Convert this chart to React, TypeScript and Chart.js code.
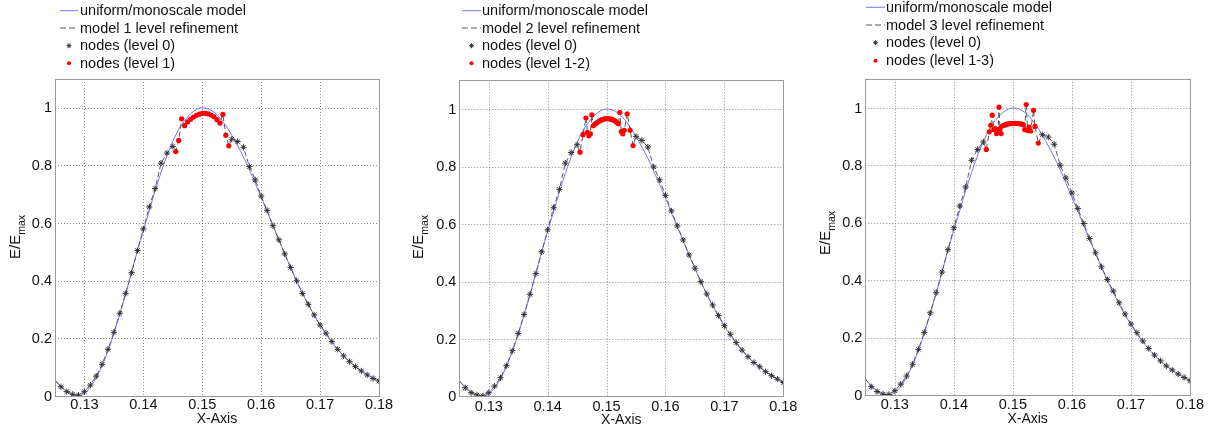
import React, { useEffect, useRef } from 'react';
import { Chart, registerables } from 'chart.js';

Chart.register(...registerables);

// ---- axis ticks -------------------------------------------------------
const xTickValues = [0.13, 0.14, 0.15, 0.16, 0.17, 0.18];
const xTickLabels = ['0.13', '0.14', '0.15', '0.16', '0.17', '0.18'];
const yTickValues = [0, 0.2, 0.4, 0.6, 0.8, 1];
const yTickLabels = ['0', '0.2', '0.4', '0.6', '0.8', '1'];
const X_MIN = 0.125;
const X_MAX = 0.18;
const Y_MIN = 0;
const Y_MAX = 1.1;

// ---- uniform / monoscale model (shared by all panels) -----------------
const uniformX = [
  0.125, 0.126, 0.127, 0.128, 0.129, 0.13, 0.131, 0.132, 0.133, 0.134,
  0.135, 0.136, 0.137, 0.138, 0.139, 0.14, 0.141, 0.142, 0.143, 0.144,
  0.145, 0.146, 0.147, 0.148, 0.149, 0.15, 0.151, 0.152, 0.153, 0.154,
  0.155, 0.156, 0.157, 0.158, 0.159, 0.16, 0.161, 0.162, 0.163, 0.164,
  0.165, 0.166, 0.167, 0.168, 0.169, 0.17, 0.171, 0.172, 0.173, 0.174,
  0.175, 0.176, 0.177, 0.178, 0.179, 0.18,
];
const uniformY = [
  0.056, 0.034, 0.016, 0.004, 0.0, 0.009, 0.031, 0.063, 0.105, 0.157,
  0.217, 0.284, 0.355, 0.43, 0.505, 0.575, 0.643, 0.712, 0.776, 0.834,
  0.884, 0.925, 0.956, 0.979, 0.994, 1.0, 0.997, 0.985, 0.965, 0.938,
  0.905, 0.868, 0.829, 0.785, 0.738, 0.69, 0.641, 0.591, 0.542, 0.493,
  0.446, 0.4, 0.357, 0.317, 0.28, 0.246, 0.215, 0.187, 0.161, 0.139,
  0.119, 0.102, 0.087, 0.074, 0.062, 0.052,
];

// ---- level-0 (coarse) nodes, outside the refined zone -----------------
const level0X = [
  0.125, 0.126, 0.127, 0.128, 0.129, 0.13, 0.131, 0.132, 0.133, 0.134,
  0.135, 0.136, 0.137, 0.138, 0.139, 0.14, 0.141, 0.142, 0.143, 0.144,
  0.145,
  0.155, 0.156, 0.157, 0.158, 0.159, 0.16, 0.161, 0.162, 0.163, 0.164,
  0.165, 0.166, 0.167, 0.168, 0.169, 0.17, 0.171, 0.172, 0.173, 0.174,
  0.175, 0.176, 0.177, 0.178, 0.179, 0.18,
];
const level0Y1 = [
  0.055, 0.032, 0.015, 0.006, 0.003, 0.015, 0.038, 0.069, 0.11, 0.162,
  0.221, 0.287, 0.356, 0.428, 0.505, 0.58, 0.656, 0.72, 0.808, 0.843,
  0.866,
  0.891, 0.883, 0.863, 0.796, 0.75, 0.694, 0.644, 0.591, 0.542, 0.493,
  0.446, 0.4, 0.356, 0.318, 0.281, 0.246, 0.218, 0.189, 0.162, 0.139,
  0.119, 0.102, 0.087, 0.073, 0.061, 0.052,
];
const level0Y2 = [
  0.055, 0.031, 0.014, 0.006, 0.003, 0.014, 0.037, 0.066, 0.108, 0.16,
  0.22, 0.286, 0.356, 0.428, 0.504, 0.58, 0.657, 0.721, 0.812, 0.849,
  0.876,
  0.905, 0.891, 0.868, 0.799, 0.754, 0.7, 0.646, 0.594, 0.545, 0.493,
  0.447, 0.4, 0.357, 0.319, 0.282, 0.247, 0.217, 0.188, 0.162, 0.139,
  0.119, 0.104, 0.087, 0.073, 0.061, 0.049,
];
const level0Y3 = [
  0.058, 0.03, 0.013, 0.004, 0.003, 0.016, 0.039, 0.067, 0.108, 0.16,
  0.219, 0.287, 0.357, 0.429, 0.507, 0.583, 0.659, 0.725, 0.818, 0.856,
  0.882,
  0.907, 0.899, 0.874, 0.801, 0.756, 0.704, 0.65, 0.598, 0.546, 0.496,
  0.447, 0.403, 0.363, 0.322, 0.283, 0.248, 0.218, 0.189, 0.163, 0.14,
  0.12, 0.102, 0.088, 0.074, 0.062, 0.051,
];

// ---- refined nodes: 1 level ------------------------------------------
const refinedX1 = [
  0.1455, 0.146, 0.1465, 0.147, 0.1475, 0.148, 0.1485, 0.149, 0.1495, 0.15,
  0.1505, 0.151, 0.1515, 0.152, 0.1525, 0.153, 0.1535, 0.154, 0.1545,
];
const refinedY1 = [
  0.848, 0.887, 0.962, 0.938, 0.951, 0.96, 0.968, 0.974, 0.978, 0.981,
  0.981, 0.979, 0.975, 0.969, 0.959, 0.947, 0.977, 0.905, 0.868,
];

// ---- refined nodes: 2 levels -----------------------------------------
const refinedX2 = [
  0.1455, 0.146, 0.1465, 0.14675, 0.147, 0.14725, 0.1475,
  0.14775, 0.148, 0.14825, 0.1485, 0.14875, 0.149, 0.14925, 0.1495, 0.14975,
  0.15, 0.15025, 0.1505, 0.15075, 0.151, 0.15125, 0.1515, 0.15175, 0.152,
  0.15225, 0.1525, 0.15275, 0.153, 0.1535, 0.154, 0.1545,
];
const refinedY2 = [
  0.85, 0.911, 0.969, 0.919, 0.907, 0.914, 0.98,
  0.942, 0.947, 0.951, 0.955, 0.958, 0.961, 0.963, 0.965, 0.966,
  0.967, 0.967, 0.966, 0.965, 0.963, 0.961, 0.958, 0.954, 0.949,
  0.988, 0.922, 0.914, 0.926, 0.983, 0.926, 0.873,
];

// ---- refined nodes: 3 levels -----------------------------------------
const refinedX3 = [
  0.1455, 0.146, 0.14625, 0.1465, 0.14675, 0.147, 0.14725, 0.1475,
  0.14765, 0.1478, 0.148, 0.14825,
  0.1485, 0.14875, 0.149, 0.14925, 0.1495, 0.14975, 0.15, 0.15025,
  0.1505, 0.15075, 0.151, 0.15125, 0.1515, 0.15175, 0.152,
  0.15225, 0.1525, 0.15275, 0.153, 0.1535, 0.15375, 0.1543,
];
const refinedY3 = [
  0.856, 0.917, 0.94, 0.975, 0.925, 0.928, 0.911, 0.925,
  1.003, 0.928, 0.911, 0.938,
  0.94, 0.942, 0.944, 0.945, 0.946, 0.946, 0.946, 0.947,
  0.947, 0.946, 0.946, 0.945, 0.944, 0.942, 0.925,
  1.012, 0.922, 0.934, 0.92, 0.992, 0.936, 0.878,
];

// ---- panel layout ----------------------------------------------------
type Area = { left: number; right: number; top: number; bottom: number };
type PanelSpec = {
  offset: number;
  area: Area;
  legendRows: number[];
  sampleX: [number, number];
  textX: number;
  xLabelY: number;
  xTitleY: number;
  yTitle: { x: number; y: number };
  refineLabel: string;
  nodeLabel: string;
  level0Y: number[];
  refinedX: number[];
  refinedY: number[];
};

const panels: PanelSpec[] = [
  {
    offset: 0,
    area: { left: 55, right: 379, top: 79, bottom: 396 },
    legendRows: [10.7, 28, 45.7, 63.3],
    sampleX: [60, 78],
    textX: 80,
    xLabelY: 405,
    xTitleY: 419,
    yTitle: { x: 16, y: 237 },
    refineLabel: 'model 1 level refinement',
    nodeLabel: 'nodes (level 1)',
    level0Y: level0Y1,
    refinedX: refinedX1,
    refinedY: refinedY1,
  },
  {
    offset: 404,
    area: { left: 55.3, right: 379.3, top: 80.3, bottom: 396.7 },
    legendRows: [10.7, 28, 45.7, 63.3],
    sampleX: [58, 77],
    textX: 78,
    xLabelY: 407,
    xTitleY: 420.5,
    yTitle: { x: 15, y: 237 },
    refineLabel: 'model 2 level refinement',
    nodeLabel: 'nodes (level 1-2)',
    level0Y: level0Y2,
    refinedX: refinedX2,
    refinedY: refinedY2,
  },
  {
    offset: 808,
    area: { left: 57.3, right: 382, top: 79.3, bottom: 395.3 },
    legendRows: [7.3, 25, 42.7, 60.7],
    sampleX: [58, 77],
    textX: 78,
    xLabelY: 405,
    xTitleY: 419.3,
    yTitle: { x: 18, y: 233 },
    refineLabel: 'model 3 level refinement',
    nodeLabel: 'nodes (level 1-3)',
    level0Y: level0Y3,
    refinedX: refinedX3,
    refinedY: refinedY3,
  },
];

const FONT = 'Arimo, "Liberation Sans", Arial, Helvetica, sans-serif';
const BLUE = '#7474ff';
const DASH_GRAY = '#5a5a5a';
const STAR_COLOR = '#333333';
const RED = '#ff0000';
const W = 404;
const H = 432;

function zip(xs: number[], ys: number[]) {
  return xs.map((x, i) => ({ x, y: ys[i] }));
}

function drawStar(ctx: CanvasRenderingContext2D, x: number, y: number, r: number) {
  ctx.beginPath();
  ctx.moveTo(x - r, y);
  ctx.lineTo(x + r, y);
  ctx.moveTo(x, y - r);
  ctx.lineTo(x, y + r);
  const d = r * 0.7071;
  ctx.moveTo(x - d, y - d);
  ctx.lineTo(x + d, y + d);
  ctx.moveTo(x - d, y + d);
  ctx.lineTo(x + d, y - d);
  ctx.stroke();
}

function decorPlugin(spec: PanelSpec) {
  return {
    id: 'panelDecor',
    beforeDatasetsDraw(chart: any) {
      const { ctx, chartArea: a, scales } = chart;
      ctx.save();
      ctx.strokeStyle = '#8c8c8c';
      ctx.lineWidth = 1;
      ctx.setLineDash([1, 2]);
      xTickValues.forEach((v) => {
        const px = Math.round(scales.x.getPixelForValue(v)) + 0.5;
        if (px > a.left + 1 && px < a.right - 1) {
          ctx.beginPath();
          ctx.moveTo(px, a.top);
          ctx.lineTo(px, a.bottom);
          ctx.stroke();
        }
      });
      yTickValues.forEach((v) => {
        const py = Math.round(scales.y.getPixelForValue(v)) + 0.5;
        if (py > a.top + 1 && py < a.bottom - 1) {
          ctx.beginPath();
          ctx.moveTo(a.left, py);
          ctx.lineTo(a.right, py);
          ctx.stroke();
        }
      });
      ctx.restore();
    },
    afterDatasetsDraw(chart: any) {
      const { ctx, chartArea: a, scales } = chart;
      ctx.save();
      // frame
      ctx.strokeStyle = '#9a9a9a';
      ctx.lineWidth = 1;
      ctx.setLineDash([]);
      ctx.strokeRect(
        Math.round(a.left) + 0.5,
        Math.round(a.top) + 0.5,
        Math.round(a.right - a.left),
        Math.round(a.bottom - a.top)
      );

      // tick labels
      ctx.fillStyle = '#111';
      ctx.font = `14.5px ${FONT}`;
      ctx.textAlign = 'center';
      ctx.textBaseline = 'middle';
      xTickValues.forEach((v, i) => {
        ctx.fillText(xTickLabels[i], scales.x.getPixelForValue(v), spec.xLabelY);
      });
      ctx.textAlign = 'right';
      yTickValues.forEach((v, i) => {
        ctx.fillText(yTickLabels[i], a.left - 3, scales.y.getPixelForValue(v) + 0.5);
      });

      // axis titles
      ctx.font = `14px ${FONT}`;
      ctx.textAlign = 'center';
      ctx.fillText('X-Axis', (a.left + a.right) / 2, spec.xTitleY);

      ctx.save();
      ctx.translate(spec.yTitle.x, spec.yTitle.y);
      ctx.rotate(-Math.PI / 2);
      ctx.textAlign = 'left';
      ctx.font = `15px ${FONT}`;
      const w1 = ctx.measureText('E/E').width;
      ctx.font = `10.5px ${FONT}`;
      const w2 = ctx.measureText('max').width;
      const start = -(w1 + w2) / 2;
      ctx.font = `15px ${FONT}`;
      ctx.fillText('E/E', start, 0);
      ctx.font = `10.5px ${FONT}`;
      ctx.fillText('max', start + w1, 6);
      ctx.restore();

      // legend
      const [sx0, sx1] = spec.sampleX;
      const mid = (sx0 + sx1) / 2;
      const rows = spec.legendRows;
      ctx.lineWidth = 1;
      ctx.setLineDash([]);
      ctx.strokeStyle = BLUE;
      ctx.beginPath();
      ctx.moveTo(sx0, rows[0]);
      ctx.lineTo(sx1, rows[0]);
      ctx.stroke();

      ctx.strokeStyle = DASH_GRAY;
      ctx.setLineDash([6, 3]);
      ctx.beginPath();
      ctx.moveTo(sx0, rows[1]);
      ctx.lineTo(sx1, rows[1]);
      ctx.stroke();
      ctx.setLineDash([]);

      ctx.strokeStyle = STAR_COLOR;
      drawStar(ctx, mid, rows[2], 2.5);

      ctx.fillStyle = RED;
      ctx.beginPath();
      ctx.arc(mid, rows[3], 2, 0, Math.PI * 2);
      ctx.fill();

      ctx.fillStyle = '#111';
      ctx.font = `14.5px ${FONT}`;
      ctx.textAlign = 'left';
      ctx.textBaseline = 'middle';
      const labels = ['uniform/monoscale model', spec.refineLabel, 'nodes (level 0)', spec.nodeLabel];
      labels.forEach((t, i) => ctx.fillText(t, spec.textX, rows[i] + 0.5));
      ctx.restore();
    },
  };
}

function Panel({ spec }: { spec: PanelSpec }) {
  const ref = useRef<HTMLCanvasElement>(null);

  useEffect(() => {
    const canvas = ref.current;
    if (!canvas) return;

    const coarse = zip(level0X, spec.level0Y);
    const fine = zip(spec.refinedX, spec.refinedY);
    const refinedModel = [...coarse, ...fine].sort((p, q) => p.x - q.x);
    const coarseMarkers = coarse.filter((p) => p.x > X_MIN);

    const chart = new Chart(canvas, {
      type: 'scatter',
      data: {
        datasets: [
          {
            label: spec.nodeLabel,
            data: fine,
            showLine: false,
            pointStyle: 'circle',
            pointRadius: 2.6,
            pointBackgroundColor: RED,
            pointBorderColor: RED,
            pointBorderWidth: 0,
            order: 0,
          },
          {
            label: 'nodes (level 0)',
            data: coarseMarkers,
            showLine: false,
            pointStyle: 'star',
            pointRadius: 3.1,
            pointBorderColor: STAR_COLOR,
            pointBackgroundColor: STAR_COLOR,
            pointBorderWidth: 1,
            order: 1,
          },
          {
            label: spec.refineLabel,
            data: refinedModel,
            showLine: true,
            pointRadius: 0,
            borderColor: DASH_GRAY,
            borderWidth: 1,
            borderDash: [5, 3],
            tension: 0,
            order: 2,
          },
          {
            label: 'uniform/monoscale model',
            data: zip(uniformX, uniformY),
            showLine: true,
            pointRadius: 0,
            borderColor: BLUE,
            borderWidth: 1,
            cubicInterpolationMode: 'monotone',
            order: 3,
          },
        ],
      },
      options: {
        animation: false,
        responsive: false,
        devicePixelRatio: 1,
        events: [],
        layout: {
          padding: {
            left: spec.area.left,
            right: W - spec.area.right,
            top: spec.area.top,
            bottom: H - spec.area.bottom,
          },
        },
        plugins: {
          legend: { display: false },
          tooltip: { enabled: false },
        },
        scales: {
          x: { type: 'linear', display: false, min: X_MIN, max: X_MAX },
          y: { type: 'linear', display: false, min: Y_MIN, max: Y_MAX },
        },
      },
      plugins: [decorPlugin(spec)],
    } as any);

    return () => chart.destroy();
  }, [spec]);

  return (
    <canvas
      ref={ref}
      width={W}
      height={H}
      style={{ position: 'absolute', left: spec.offset, top: 0, width: W, height: H }}
    />
  );
}

export default function App() {
  return (
    <div style={{ position: 'absolute', left: 0, top: 0, width: 1212, height: 432, background: '#fff' }}>
      {panels.map((p) => (
        <Panel key={p.offset} spec={p} />
      ))}
    </div>
  );
}
